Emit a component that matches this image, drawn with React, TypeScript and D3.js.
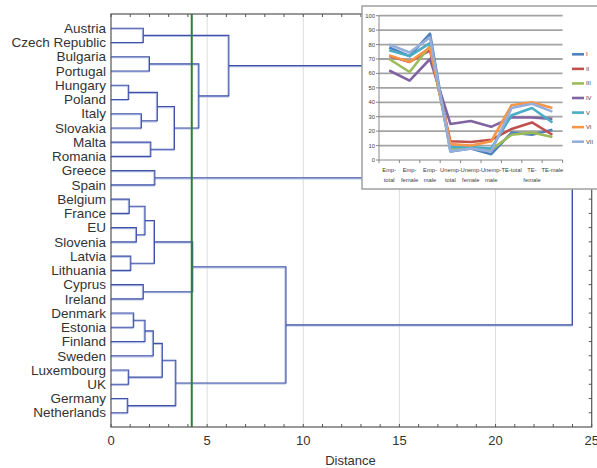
import * as d3 from "d3";

const leaves = [
  "Austria", "Czech Republic", "Bulgaria", "Portugal", "Hungary", "Poland",
  "Italy", "Slovakia", "Malta", "Romania", "Greece", "Spain", "Belgium",
  "France", "EU", "Slovenia", "Latvia", "Lithuania", "Cyprus", "Ireland",
  "Denmark", "Estonia", "Finland", "Sweden", "Luxembourg", "UK", "Germany",
  "Netherlands",
];

// [childA, childB, distance]; clusters are named c0, c1, ... in order
const merges: [string, string, number][] = [
  ["Austria", "Czech Republic", 1.68],
  ["Bulgaria", "Portugal", 2.0],
  ["Hungary", "Poland", 0.92],
  ["Italy", "Slovakia", 1.58],
  ["c2", "c3", 2.41],
  ["Malta", "Romania", 2.07],
  ["c4", "c5", 3.3],
  ["c1", "c6", 4.57],
  ["c0", "c7", 6.13],
  ["Greece", "Spain", 2.28],
  ["c8", "c9", 15],
  ["Belgium", "France", 0.95],
  ["EU", "Slovenia", 1.32],
  ["c11", "c12", 1.77],
  ["Latvia", "Lithuania", 1.03],
  ["c13", "c14", 2.26],
  ["Cyprus", "Ireland", 1.68],
  ["c15", "c16", 4.25],
  ["Denmark", "Estonia", 1.18],
  ["c18", "Finland", 1.77],
  ["c19", "Sweden", 2.2],
  ["Luxembourg", "UK", 0.92],
  ["c20", "c21", 2.67],
  ["Germany", "Netherlands", 0.87],
  ["c22", "c23", 3.37],
  ["c17", "c24", 9.1],
  ["c10", "c25", 24.0],
];

const cutDistance = 4.2;
const distTicks = [0, 5, 10, 15, 20, 25];

// inset line chart
const insetCats = [
  ["Emp-", "total"], ["Emp-", "female"], ["Emp-", "male"],
  ["Unemp-", "total"], ["Unemp-", "female"], ["Unemp-", "male"],
  ["TE-total"], ["TE-", "female"], ["TE-male"],
];
const seriesNames = ["I", "II", "III", "IV", "V", "VI", "VII"];
const seriesColors = ["#4f81bd", "#c0504d", "#9bbb59", "#8064a2", "#4bacc6", "#f79646", "#95aedb"];
const s1 = [78, 72, 87.5, 6, 8, 4, 19, 17.5, 21];
const s2 = [72, 68, 76, 13, 12.5, 14, 21.5, 26, 17.5];
const s3 = [70, 61, 79, 8, 8, 7, 17.5, 19, 16];
const s4 = [62, 55, 70, 25, 27, 23, 29.5, 29.5, 28.5];
const s5 = [76, 72, 81, 9, 9, 8, 31, 36, 26];
const s6 = [72.5, 68, 78, 11, 10, 13, 38, 40, 36];
const s7 = [80, 74.5, 85, 6, 8, 6, 36, 39, 33.5];
const seriesValues = [s1, s2, s3, s4, s5, s6, s7];
const insetTicks = [0, 10, 20, 30, 40, 50, 60, 70, 80, 90, 100];

const FONT = "'Liberation Sans', Arial, sans-serif";

export default function App() {
  const W = 597, H = 468;
  const left = 111, right = 591.7, top = 14, bottom = 427;

  const x = d3.scaleLinear().domain([0, 25]).range([left, right]);
  const y = d3.scalePoint<string>().domain(leaves).range([top, bottom]).padding(1);

  // compute node positions
  const pos: Record<string, { y: number; h: number }> = {};
  leaves.forEach((l) => (pos[l] = { y: y(l)!, h: 0 }));
  const links: string[] = [];
  merges.forEach(([a, b, h], i) => {
    const pa = pos[a], pb = pos[b];
    const xh = x(h);
    links.push(
      `M${x(pa.h)},${pa.y}H${xh}V${pb.y}H${x(pb.h)}`
    );
    pos["c" + i] = { y: (pa.y + pb.y) / 2, h };
  });

  const minorTicks = d3.range(0, 26);

  // inset
  const ix = d3.scaleBand<number>().domain(d3.range(insetCats.length)).range([379, 562.6]);
  const iy = d3.scaleLinear().domain([0, 100]).range([160, 15.7]);
  const line = d3
    .line<number>()
    .x((_, i) => ix(i)! + ix.bandwidth() / 2)
    .y((v) => iy(v));
  const legendY = d3.scalePoint<string>().domain(seriesNames).range([54.3, 141.7]);

  return (
    <svg width={W} height={H} style={{ position: "absolute", left: 0, top: 0 }} fontFamily={FONT}>
      <rect width={W} height={H} fill="#fff" />
      {/* grid */}
      {[5, 10, 15, 20].map((t) => (
        <line key={t} x1={x(t)} x2={x(t)} y1={top} y2={bottom} stroke="#dcdcdc" strokeWidth={1} />
      ))}
      {/* dendrogram */}
      <g fill="none">
        {links.map((d, i) => (
          <path key={"s" + i} d={d} stroke="#b3bfe6" strokeWidth={1.4} transform="translate(-0.8,0.9)" />
        ))}
        {links.map((d, i) => (
          <path key={"l" + i} d={d} stroke="#3f51a6" strokeWidth={1.1} />
        ))}
      </g>
      {/* cut line */}
      <line x1={x(cutDistance)} x2={x(cutDistance)} y1={top} y2={bottom} stroke="#2e7d3a" strokeWidth={2} />
      {/* frame */}
      <rect x={left} y={top} width={right - left} height={bottom - top} fill="none" stroke="#555" strokeWidth={1.2} />
      {minorTicks.map((t) => (
        <g key={t} stroke="#555">
          <line x1={x(t)} x2={x(t)} y1={top} y2={top + 3} />
          <line x1={x(t)} x2={x(t)} y1={bottom} y2={bottom - 3} />
        </g>
      ))}
      {leaves.map((l) => (
        <line key={l} x1={right} x2={right - 3} y1={y(l)} y2={y(l)} stroke="#555" />
      ))}
      {/* labels */}
      {leaves.map((l) => (
        <text key={l} x={106} y={y(l)} dy="0.35em" textAnchor="end" fontSize={13.5} fill="#333">
          {l}
        </text>
      ))}
      {distTicks.map((t) => (
        <text key={t} x={x(t)} y={445} textAnchor="middle" fontSize={13} fill="#333">
          {t}
        </text>
      ))}
      <text x={350.5} y={465} textAnchor="middle" fontSize={13} fill="#333">
        Distance
      </text>

      {/* inset chart */}
      <g>
        <rect x={362} y={6} width={240} height={183} fill="#fff" stroke="#a0a0a0" strokeWidth={1.5} />
        {insetTicks.map((t) => (
          <g key={t}>
            {t > 0 && (
              <line x1={379} x2={562.6} y1={iy(t)} y2={iy(t)} stroke="#a3a3a3" strokeWidth={1.8} />
            )}
            <line x1={376} x2={379} y1={iy(t)} y2={iy(t)} stroke="#888" />
            <text x={375} y={iy(t)} dy="0.35em" textAnchor="end" fontSize={5.8} fill="#404040">
              {t}
            </text>
          </g>
        ))}
        <line x1={379} x2={379} y1={iy(100)} y2={iy(0)} stroke="#888" />
        <line x1={379} x2={562.6} y1={iy(0)} y2={iy(0)} stroke="#888" />
        {d3.range(insetCats.length + 1).map((i) => {
          const xx = 379 + i * ix.step();
          return <line key={i} x1={xx} x2={xx} y1={160} y2={163} stroke="#888" />;
        })}
        {insetCats.map((c, i) => (
          <text key={i} x={ix(i)! + ix.bandwidth() / 2} y={172} textAnchor="middle" fontSize={5.8} fill="#404040">
            {c.map((s, j) => (
              <tspan key={j} x={ix(i)! + ix.bandwidth() / 2} dy={j === 0 ? 0 : 9.5}>
                {s}
              </tspan>
            ))}
          </text>
        ))}
        {seriesValues.map((vals, i) => (
          <path key={i} d={line(vals)!} fill="none" stroke={seriesColors[i]} strokeWidth={2.6} strokeLinejoin="round" />
        ))}
        {seriesNames.map((n, i) => (
          <g key={n}>
            <line x1={572} x2={584} y1={legendY(n)} y2={legendY(n)} stroke={seriesColors[i]} strokeWidth={2.6} />
            <text x={586} y={legendY(n)} dy="0.35em" fontSize={5.8} fill="#404040">
              {n}
            </text>
          </g>
        ))}
      </g>
    </svg>
  );
}
